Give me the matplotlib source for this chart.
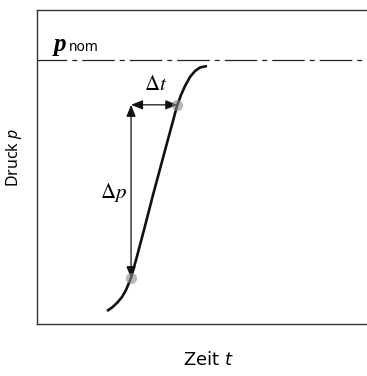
import matplotlib
matplotlib.use("Agg")
import matplotlib.pyplot as plt

plt.rcParams['font.family'] = ['Noto Sans', 'DejaVu Sans']
plt.rcParams['mathtext.fontset'] = 'custom'
plt.rcParams['mathtext.rm'] = 'Noto Sans'
plt.rcParams['mathtext.it'] = 'Noto Sans:italic'

# Pressure rise curve (time, pressure) in relative units
curve_t = [2.121, 2.273, 2.424, 2.576, 2.697, 2.848, 3.000, 3.121, 3.273, 3.515,
           3.727, 3.939, 4.121, 4.242, 4.364, 4.485, 4.636, 4.788, 4.939, 5.152]
curve_p = [0.414, 0.525, 0.669, 0.860, 1.083, 1.465, 2.038, 2.516, 3.121, 4.108,
           4.936, 5.764, 6.465, 6.943, 7.293, 7.580, 7.866, 8.057, 8.169, 8.217]
p_nom = 8.41
# marked points on the curve
mark_t = [2.85, 4.25]
mark_p = [1.46, 6.98]

fig = plt.figure(figsize=(3.67, 3.76), dpi=100)
ax = fig.add_axes([37/367, 52/376, 1 - 37/367, 314/376])
ax.set_xlim(0, 10)
ax.set_ylim(0, 10)
ax.set_xticks([])
ax.set_yticks([])
for s in ['left', 'bottom', 'top']:
    ax.spines[s].set_linewidth(1.0)
    ax.spines[s].set_color('#333333')
ax.spines['right'].set_visible(False)

# nominal pressure line
ax.axhline(p_nom, color='#222222', lw=0.9, linestyle=(2.2, (26, 4, 4, 4)))

# curve
ax.plot(curve_t, curve_p, color='#111111', lw=1.9, solid_joinstyle='round',
        solid_capstyle='butt', zorder=3)

arrow_kw = dict(arrowstyle='<|-|>,head_length=0.5,head_width=0.2', color='#111111',
                lw=0.9, mutation_scale=14, shrinkA=0, shrinkB=0)
# vertical Δp arrow
ax.annotate('', xy=(mark_t[0], mark_p[0]), xytext=(mark_t[0], mark_p[1]),
            arrowprops=arrow_kw, zorder=4)
# horizontal Δt arrow
ax.annotate('', xy=(mark_t[1], mark_p[1]), xytext=(mark_t[0], mark_p[1]),
            arrowprops=arrow_kw, zorder=4)

# gray markers
ax.plot(mark_t, mark_p, 'o', color='#8a8a8a', ms=8, mec='none', alpha=0.6, zorder=5)

ax.text(3.6, 7.28, r'$\Delta t$', fontsize=15, math_fontfamily='stix',
        ha='center', va='bottom')
ax.text(2.74, 4.2, r'$\Delta p$', fontsize=15, math_fontfamily='stix',
        ha='right', va='center')

# p_nom label
ax.text(0.52, 8.68, 'p', fontsize=18, family='Liberation Serif', style='italic',
        weight='bold', ha='left', va='baseline')
ax.text(0.96, 8.68, 'nom', fontsize=10, ha='left', va='baseline')

fig.text(14/367, 1 - 158/376, r'Druck $p$', rotation=90, fontsize=11.5,
         ha='center', va='center')
fig.text(208/367, 1 - 360/376, r'Zeit $t$', fontsize=13, ha='center', va='center',
         family='DejaVu Sans', math_fontfamily='dejavusans')

fig.savefig('out.png', dpi=100)
